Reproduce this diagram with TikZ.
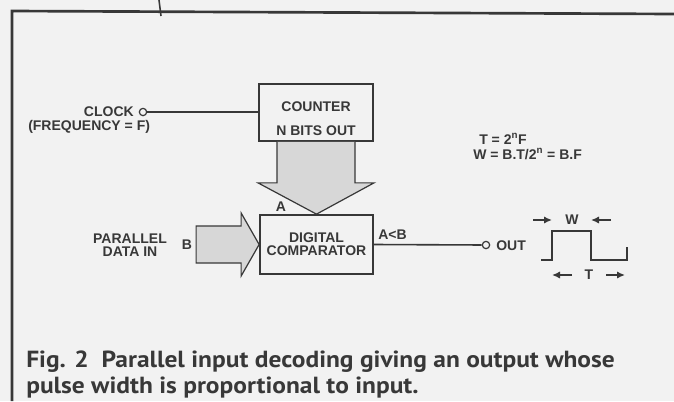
\documentclass[tikz,border=0pt]{standalone}
\usepackage{fontspec}
\setmainfont{Liberation Sans}
\newfontfamily\capfont{PT Sans}
\usepackage{xcolor}
\usepackage{graphicx}
\usepackage{tikz}
\usetikzlibrary{arrows.meta,calc}

\definecolor{paper}{HTML}{F2F2F2}
\definecolor{ink}{HTML}{383838}
\definecolor{shade}{HTML}{D7D7D7}

\begin{document}
\begin{tikzpicture}[x=0.75pt, y=-0.75pt,
  block/.style={rectangle, draw=ink, line width=1.3pt, minimum width=85.5pt, minimum height=42.75pt, inner sep=0pt, text=ink, font=\fontsize{10.5}{9.75}\selectfont\bfseries},
  lbl/.style={inner sep=0pt, text=ink, font=\fontsize{10.5}{9.75}\selectfont\bfseries},
  port/.style={circle, draw=ink, line width=0.9pt, fill=paper, minimum size=5.5pt, inner sep=0pt},
  wire/.style={draw=ink, line width=1.2pt},
  fatarrow/.style={draw=ink, line width=0.9pt, fill=shade, line join=miter},
  dimarrow/.style={draw=ink, line width=1.6pt, -{Latex[length=6pt,width=5.5pt]}},
  frame/.style={draw=ink, line width=2pt},
  caption/.style={inner sep=0pt, text=ink, font=\capfont\fontsize{17.5}{19}\selectfont\bfseries}
]
\fill[paper] (0,0) rectangle (674,401);
\useasboundingbox (0,0) rectangle (674,401);

% Frame
\draw[frame] (12,401) -- (12,11) -- (674,14);
\draw[draw=ink, line width=1.2pt] (159,0) -- (161,16);

% Blocks
\node[block] (counter) at (316,112.5) {};
\node[lbl] (countertxt) at (316,107) {COUNTER};
\node[lbl] (nbits) at (316,131) {N BITS OUT};
\node[block, minimum width=84.75pt, minimum height=44.25pt, align=center] (cmp) at (316.5,244.5) {DIGITAL\\COMPARATOR};

% Clock input
\node[port] (clk) at (143,112) {};
\node[lbl, anchor=east] (clocktxt) at (134,111.5) {CLOCK};
\node[lbl, anchor=west] (freq) at (28,126.5) {(FREQUENCY = F)};
\draw[wire] (clk) -- (clk -| counter.west);

% Counter to comparator
\draw[fatarrow] ($(counter.south)+(-39,0)$) -- ($(counter.south)+(-39,41)$)
  -- ($(counter.south)+(-58,41)$) -- (cmp.north) -- ($(counter.south)+(58,41)$)
  -- ($(counter.south)+(39,41)$) -- ($(counter.south)+(39,0)$);
\node[lbl] (alabel) at (281,207) {A};

% Parallel data in
\draw[fatarrow] ($(cmp.west)+(-63,-18.5)$) -- ($(cmp.west)+(-18,-18.5)$)
  -- ($(cmp.west)+(-18,-31.5)$) -- (cmp.west) -- ($(cmp.west)+(-18,31.5)$)
  -- ($(cmp.west)+(-18,18.5)$) -- ($(cmp.west)+(-63,18.5)$) -- cycle;
\node[lbl] (blabel) at (187,245) {B};
\node[lbl, align=center] (pdata) at (130,245) {PARALLEL\\DATA IN};

% Output
\node[port] (out) at (486,245) {};
\draw[wire] (cmp.east) -- (out);
\node[lbl, anchor=west] (altb) at (378,235) {A<B};
\node[lbl, anchor=west] (outtxt) at (496,246) {OUT};

% Formulae
\node[lbl, anchor=west] (teq) at (479,139) {T = 2\textsuperscript{n}F};
\node[lbl, anchor=west] (weq) at (473,154) {W = B.T/2\textsuperscript{n} = B.F};

% Output pulse
\draw[draw=ink, line width=1.4pt] (541,260) -- (552,260) -- (552,231) -- (591,231)
  -- (591,260) -- (627,260) -- (627,247);
\coordinate (wl0) at (533,220); \coordinate (wl1) at (552,220);
\coordinate (wr0) at (611,220); \coordinate (wr1) at (591,220);
\coordinate (tl0) at (572,275); \coordinate (tl1) at (552,275);
\coordinate (tr0) at (606,275); \coordinate (tr1) at (625,275);
\draw[dimarrow] (wl0) -- (wl1);
\draw[dimarrow] (wr0) -- (wr1);
\draw[dimarrow] (tl0) -- (tl1);
\draw[dimarrow] (tr0) -- (tr1);
\node[lbl] (wlabel) at (572,220) {W};
\node[lbl] (tlabel) at (589,275) {T};

% Caption
\node[caption, anchor=base west] (cap1) at (26,367) {\scalebox{1.09}[1]{Fig. 2\enspace Parallel input decoding giving an output whose}};
\node[caption, anchor=base west] (cap2) at (26,393) {\scalebox{1.09}[1]{pulse width is proportional to input.}};

\end{tikzpicture}
\end{document}
